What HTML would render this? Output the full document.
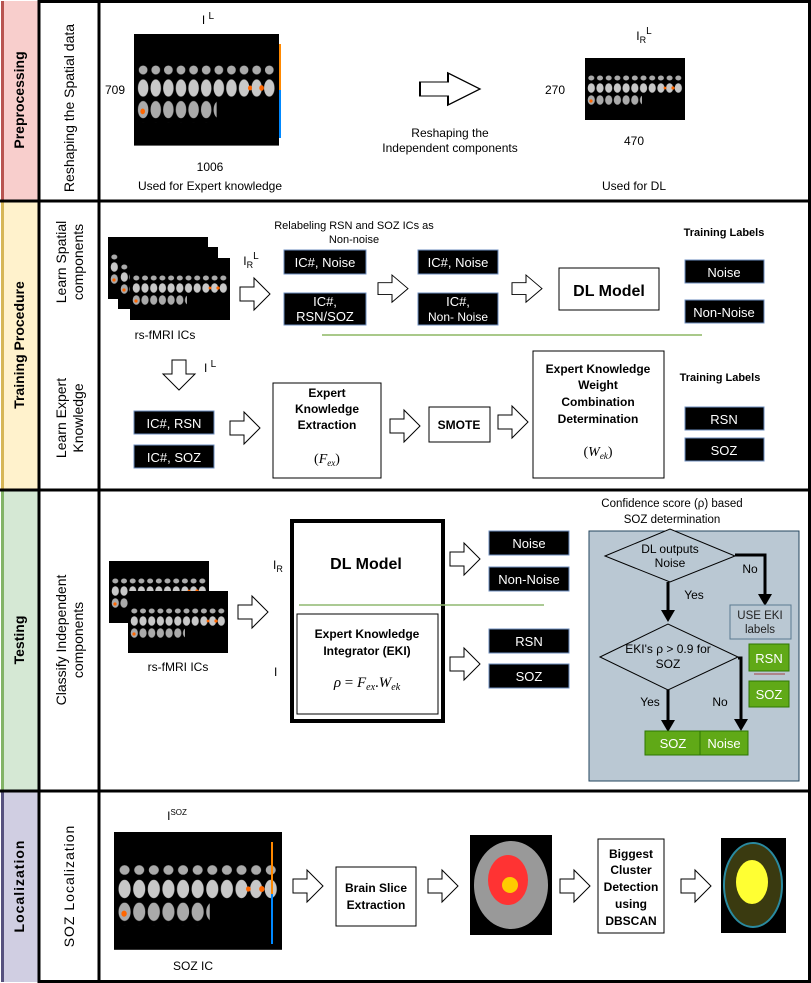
<!DOCTYPE html>
<html><head><meta charset="utf-8"><style>
html,body{margin:0;padding:0;background:#fff}
svg{display:block;font-family:"Liberation Sans",Arial,sans-serif}
</style></head><body>
<svg width="811" height="983" viewBox="0 0 811 983" xmlns="http://www.w3.org/2000/svg">
<defs>
<path id="ar" d="M0,9 H14 V0 L30,16 L14,32 V23 H0 Z" fill="#fff" stroke="#000" stroke-width="1"/>
<pattern id="br" x="2" y="0" width="8.7" height="12" patternUnits="userSpaceOnUse">
<ellipse cx="4.3" cy="6" rx="3.6" ry="4.8" fill="#c8c8c8"/>
</pattern>
<pattern id="br2" x="2" y="0" width="8.7" height="12" patternUnits="userSpaceOnUse">
<ellipse cx="4.3" cy="8" rx="3" ry="2.5" fill="#aaa"/>
</pattern>
<g id="brainimg">
<rect x="0" y="0" width="100" height="62" fill="#000"/>
<rect x="2" y="12" width="96" height="12" fill="url(#br2)"/>
<rect x="2" y="24" width="96" height="12" fill="url(#br)"/>
<rect x="2" y="37" width="55" height="12" fill="url(#br)" opacity="0.85"/>
<circle cx="6" cy="43" r="1.6" fill="#f60"/><circle cx="88" cy="30" r="1.6" fill="#f60"/><circle cx="80" cy="30" r="1.4" fill="#f60"/>
</g>
</defs>
<rect width="811" height="983" fill="#fff"/>
<rect x="1" y="1" width="37" height="199" fill="#f8cecc"/><rect x="1" y="1" width="3" height="199" fill="#b85450"/>
<rect x="1" y="201" width="37" height="288" fill="#fff2cc"/><rect x="1" y="201" width="3" height="288" fill="#d6b656"/>
<rect x="1" y="490" width="37" height="300" fill="#d5e8d4"/><rect x="1" y="490" width="3" height="300" fill="#82b366"/>
<rect x="1" y="792" width="37" height="190" fill="#d0cee2"/><rect x="1" y="792" width="3" height="190" fill="#56517e"/>
<g stroke="#000" stroke-width="3">
<line x1="39" y1="0" x2="39" y2="983"/><line x1="99" y1="0" x2="99" y2="983"/>
<line x1="39" y1="1.5" x2="811" y2="1.5"/><line x1="809.5" y1="0" x2="809.5" y2="983"/>
<line x1="0" y1="201" x2="811" y2="201"/><line x1="0" y1="490" x2="811" y2="490"/>
<line x1="0" y1="791" x2="811" y2="791"/><line x1="39" y1="981.5" x2="811" y2="981.5"/>
</g>
<g font-weight="bold" font-size="14" text-anchor="middle">
<text transform="translate(24,100) rotate(-90)">Preprocessing</text>
<text transform="translate(24,345) rotate(-90)">Training Procedure</text>
<text transform="translate(24,640) rotate(-90)">Testing</text>
<text transform="translate(24,886) rotate(-90)" letter-spacing="1">Localization</text>
</g>
<g font-size="14" text-anchor="middle">
<text transform="translate(74,108) rotate(-90)">Reshaping the Spatial data</text>
<text transform="translate(66,262) rotate(-90)">Learn Spatial</text>
<text transform="translate(83,262) rotate(-90)">components</text>
<text transform="translate(66,418) rotate(-90)">Learn Expert</text>
<text transform="translate(83,418) rotate(-90)">Knowledge</text>
<text transform="translate(66,640) rotate(-90)">Classify Independent</text>
<text transform="translate(83,640) rotate(-90)">components</text>
<text transform="translate(74,886) rotate(-90)" letter-spacing="1">SOZ Localization</text>
</g>
<g font-size="12" text-anchor="middle">
<text x="208" y="24">I <tspan dy="-5" font-size="10">L</tspan></text>
<g transform="translate(134,34) scale(1.45,1.8)"><use href="#brainimg"/></g>
<rect x="279" y="44" width="2" height="46" fill="#f80"/><rect x="279" y="90" width="2" height="48" fill="#08f"/>
<text x="115" y="94">709</text>
<text x="210" y="171">1006</text>
<text x="210" y="190">Used for Expert knowledge</text>
<use href="#ar" transform="translate(420,73) scale(2,1)"/>
<text x="450" y="137">Reshaping the</text>
<text x="450" y="152">Independent components</text>
<text x="644" y="40">I<tspan dy="3" font-size="9">R</tspan><tspan dy="-9" font-size="10">L</tspan></text>
<g transform="translate(585,58)"><use href="#brainimg"/></g>
<text x="555" y="94">270</text>
<text x="634" y="145">470</text>
<text x="634" y="190">Used for DL</text>
</g>
<g font-size="12" text-anchor="middle">
<g transform="translate(108,237)"><use href="#brainimg"/></g>
<g transform="translate(118,247)"><use href="#brainimg"/></g>
<g transform="translate(130,258)"><use href="#brainimg"/></g>
<text x="165" y="339">rs-fMRI ICs</text>
<use href="#ar" transform="translate(240,278)"/>
<text x="251" y="265">I<tspan dy="3" font-size="9">R</tspan><tspan dy="-9" font-size="10">L</tspan></text>
<text x="354" y="229" font-size="11">Relabeling RSN and SOZ ICs as</text>
<text x="354" y="243" font-size="11">Non-noise</text>
</g>
<g fill="#000" stroke="#6c8ebf" stroke-width="1">
<rect x="284" y="250" width="82" height="24"/><rect x="284" y="293" width="82" height="32"/>
<rect x="418" y="250" width="80" height="24"/><rect x="418" y="293" width="80" height="32"/>
<rect x="685" y="260" width="79" height="23"/><rect x="685" y="300" width="79" height="23"/>
<rect x="134" y="411" width="80" height="23"/><rect x="134" y="445" width="80" height="23"/>
<rect x="685" y="407" width="79" height="23"/><rect x="685" y="438" width="79" height="23"/>
<rect x="489" y="531" width="80" height="24"/><rect x="489" y="567" width="80" height="24"/>
<rect x="489" y="629" width="80" height="24"/><rect x="489" y="664" width="80" height="24"/>
</g>
<g fill="#fff" font-size="13" text-anchor="middle">
<text x="325" y="267">IC#, Noise</text>
<text x="325" y="306">IC#,</text><text x="325" y="321">RSN/SOZ</text>
<text x="458" y="267">IC#, Noise</text>
<text x="458" y="306">IC#,</text><text x="458" y="321" font-size="12">Non- Noise</text>
<text x="724" y="277">Noise</text><text x="724" y="317">Non-Noise</text>
<text x="174" y="428">IC#, RSN</text><text x="174" y="462">IC#, SOZ</text>
<text x="724" y="424">RSN</text><text x="724" y="455">SOZ</text>
<text x="529" y="548">Noise</text><text x="529" y="584">Non-Noise</text>
<text x="529" y="646">RSN</text><text x="529" y="681">SOZ</text>
</g>
<use href="#ar" transform="translate(378,275) scale(1,0.85)"/>
<use href="#ar" transform="translate(512,275) scale(1,0.85)"/>
<rect x="559" y="268" width="100" height="42" fill="#fff" stroke="#000"/>
<text x="609" y="296" font-size="16" font-weight="bold" text-anchor="middle">DL Model</text>
<g font-size="11" font-weight="bold" text-anchor="middle"><text x="724" y="236">Training Labels</text><text x="720" y="381">Training Labels</text></g>
<line x1="322" y1="335" x2="702" y2="335" stroke="#a9c98a" stroke-width="2"/>
<use href="#ar" transform="translate(195,360) rotate(90) scale(1,1)"/>
<text x="204" y="372" font-size="12">I <tspan dy="-5" font-size="10">L</tspan></text>
<use href="#ar" transform="translate(230,412)"/>
<rect x="273" y="383" width="108" height="95" fill="#fff" stroke="#000"/>
<g font-size="12" font-weight="bold" text-anchor="middle">
<text x="327" y="397">Expert</text><text x="327" y="413">Knowledge</text><text x="327" y="429">Extraction</text>
</g>
<text x="327" y="463" font-size="14" font-family="Liberation Serif" text-anchor="middle">(<tspan font-style="italic">F</tspan><tspan font-size="9" font-style="italic" dy="3">ex</tspan><tspan dy="-3">)</tspan></text>
<use href="#ar" transform="translate(390,410)"/>
<rect x="429" y="407" width="61" height="35" fill="#fff" stroke="#000"/>
<text x="459" y="429" font-size="12" font-weight="bold" text-anchor="middle">SMOTE</text>
<use href="#ar" transform="translate(498,406)"/>
<rect x="533" y="351" width="131" height="127" fill="#fff" stroke="#000"/>
<g font-size="12" font-weight="bold" text-anchor="middle">
<text x="598" y="373">Expert Knowledge</text><text x="598" y="389">Weight</text><text x="598" y="406">Combination</text><text x="598" y="423">Determination</text>
</g>
<text x="598" y="456" font-size="14" font-family="Liberation Serif" text-anchor="middle">(<tspan font-style="italic">W</tspan><tspan font-size="9" font-style="italic" dy="3">ek</tspan><tspan dy="-3">)</tspan></text>
<g transform="translate(109,561)"><use href="#brainimg"/></g>
<g transform="translate(128,591)"><use href="#brainimg"/></g>
<text x="178" y="671" font-size="12" text-anchor="middle">rs-fMRI ICs</text>
<use href="#ar" transform="translate(238,596)"/>
<text x="273" y="569" font-size="12">I<tspan dy="3" font-size="9">R</tspan></text>
<text x="274" y="676" font-size="12">I</text>
<rect x="292" y="521" width="151" height="200" fill="#fff" stroke="#000" stroke-width="4"/>
<text x="366" y="569" font-size="16" font-weight="bold" text-anchor="middle">DL Model</text>
<line x1="299" y1="605" x2="544" y2="605" stroke="#8fb870" stroke-width="1.5"/>
<rect x="297" y="614" width="141" height="100" fill="#fff" stroke="#000"/>
<g font-size="12" font-weight="bold" text-anchor="middle"><text x="367" y="638">Expert Knowledge</text><text x="367" y="655">Integrator (EKI)</text></g>
<text x="367" y="687" font-size="15" font-family="Liberation Serif" font-style="italic" text-anchor="middle">ρ <tspan font-style="normal">=</tspan> F<tspan font-size="10" dy="3">ex</tspan><tspan dy="-3" font-style="normal">.</tspan>W<tspan font-size="10" dy="3">ek</tspan></text>
<use href="#ar" transform="translate(450,543)"/>
<use href="#ar" transform="translate(450,648)"/>
<g font-size="11.5" text-anchor="middle"><text x="672" y="507">Confidence score (ρ) based</text><text x="672" y="523">SOZ determination</text></g>
<rect x="589" y="531" width="210" height="250" fill="#bac8d3" stroke="#23445d"/>
<polygon points="605,556 670,529 735,556 670,582" fill="#bac8d3" stroke="#000"/>
<g font-size="12" text-anchor="middle"><text x="670" y="553">DL outputs</text><text x="670" y="567">Noise</text></g>
<g stroke="#000" stroke-width="3" fill="none">
<polyline points="735,555 765,555 765,596"/>
<line x1="668" y1="582" x2="668" y2="612"/>
<polyline points="738,658 741,658 741,721"/>
<line x1="668" y1="690" x2="668" y2="722"/>
</g>
<g fill="#000">
<polygon points="758,594 772,594 765,606"/><polygon points="661,610 675,610 668,622"/>
<polygon points="734,719 748,719 741,731"/><polygon points="661,720 675,720 668,732"/>
</g>
<g font-size="12" text-anchor="middle"><text x="750" y="573">No</text><text x="694" y="599">Yes</text><text x="650" y="706">Yes</text><text x="720" y="706">No</text></g>
<rect x="730" y="605" width="61" height="34" fill="#bac8d3" stroke="#5a7a90"/>
<g font-size="11.5" text-anchor="middle" fill="#222"><text x="760" y="619">USE EKI</text><text x="760" y="633">labels</text></g>
<polygon points="600,657 668,624 738,657 668,690" fill="#bac8d3" stroke="#000"/>
<g font-size="12" text-anchor="middle"><text x="668" y="653">EKI's ρ &gt; 0.9 for</text><text x="668" y="668">SOZ</text></g>
<g fill="#60a917" stroke="#2d7600"><rect x="645" y="731" width="57" height="24"/><rect x="700" y="731" width="48" height="24"/><rect x="749" y="644" width="40" height="27"/><rect x="749" y="681" width="40" height="26"/></g>
<line x1="754" y1="674" x2="785" y2="674" stroke="#a04040" stroke-width="1"/>
<g fill="#fff" font-size="13" text-anchor="middle"><text x="673" y="748">SOZ</text><text x="724" y="748">Noise</text><text x="769" y="663">RSN</text><text x="769" y="699">SOZ</text></g>
<text x="177" y="820" font-size="12" text-anchor="middle">I<tspan dy="-5" font-size="8">SOZ</tspan></text>
<g transform="translate(114,832) scale(1.68,1.9)"><use href="#brainimg"/></g>
<rect x="271" y="842" width="2" height="52" fill="#f80"/><rect x="271" y="894" width="2" height="50" fill="#08f"/>
<text x="193" y="970" font-size="12" text-anchor="middle">SOZ IC</text>
<use href="#ar" transform="translate(293,870)"/>
<rect x="336" y="867" width="80" height="59" fill="#fff" stroke="#000"/>
<g font-size="12" font-weight="bold" text-anchor="middle"><text x="376" y="892">Brain Slice</text><text x="376" y="909">Extraction</text></g>
<use href="#ar" transform="translate(428,870)"/>
<rect x="470" y="835" width="82" height="100" fill="#000"/>
<ellipse cx="511" cy="885" rx="37" ry="44" fill="#999"/>
<ellipse cx="508" cy="880" rx="20" ry="25" fill="#f33"/>
<circle cx="510" cy="885" r="8" fill="#fc0"/>
<use href="#ar" transform="translate(560,870)"/>
<rect x="598" y="839" width="66" height="94" fill="#fff" stroke="#000"/>
<g font-size="12" font-weight="bold" text-anchor="middle"><text x="631" y="858">Biggest</text><text x="631" y="874">Cluster</text><text x="631" y="891">Detection</text><text x="631" y="908">using</text><text x="631" y="925">DBSCAN</text></g>
<use href="#ar" transform="translate(681,870)"/>
<rect x="721" y="838" width="65" height="95" fill="#000"/>
<ellipse cx="753" cy="885" rx="29" ry="42" fill="#3a3a10" stroke="#2a8aa0" stroke-width="2"/>
<ellipse cx="752" cy="882" rx="16" ry="22" fill="#ff3"/>
</svg>
</body></html>
